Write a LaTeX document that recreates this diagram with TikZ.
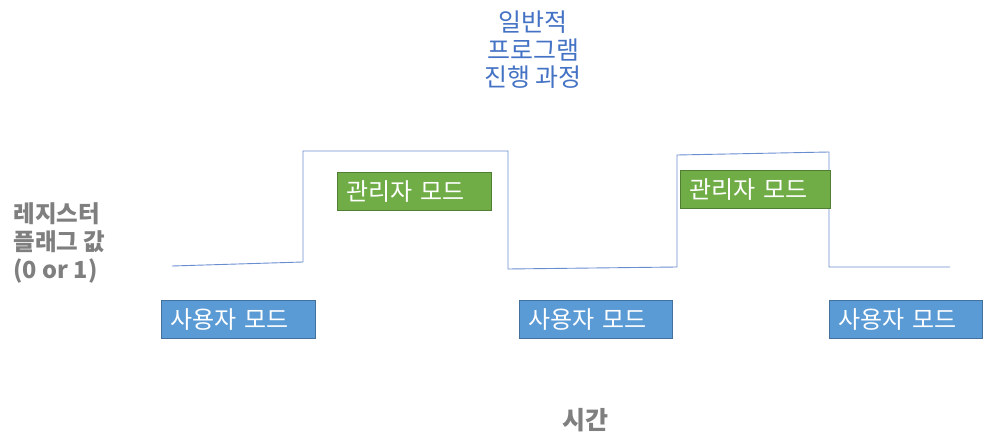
\documentclass[tikz,border=0pt]{standalone}
\usepackage{fontspec}
\setmainfont{Noto Sans CJK KR}
\definecolor{usrblue}{HTML}{5B9BD5}
\definecolor{usredge}{HTML}{41719C}
\definecolor{admgreen}{HTML}{70AD47}
\definecolor{admedge}{HTML}{507E32}
\definecolor{wave}{HTML}{4472C4}
\definecolor{lblgray}{HTML}{7F7F7F}
\begin{document}
\begin{tikzpicture}[x=1pt,y=-1pt,
  modebox/.style={draw, line width=0.8pt, minimum height=38pt, inner xsep=9pt, inner ysep=0pt, text=white, font=\fontsize{24}{26}\selectfont, anchor=north west, align=left},
  usrbox/.style={modebox, fill=usrblue, draw=usredge},
  admbox/.style={modebox, fill=admgreen, draw=admedge},
  waveline/.style={draw=wave!80, line width=0.9pt}]
\useasboundingbox (0,0) rectangle (986,441);
% waveform
\coordinate (w0) at (172,266);
\coordinate (w1) at (303,262);
\coordinate (w2) at (303,151);
\coordinate (w3) at (508,151);
\coordinate (w4) at (508,269);
\coordinate (w5) at (677,267);
\coordinate (w6) at (677,155);
\coordinate (w7) at (829,152);
\coordinate (w8) at (829,267);
\coordinate (w9) at (950,267);
\draw[waveline] (w0) -- (w1) -- (w2) -- (w3) -- (w4) -- (w5) -- (w6) -- (w7) -- (w8) -- (w9);
% mode boxes
\node[usrbox, text width=136pt] (u1) at (161,300) {사용자 모드};
\node[usrbox, text width=135pt] (u2) at (519,300) {사용자 모드};
\node[usrbox, text width=135pt] (u3) at (829,300) {사용자 모드};
\node[admbox, text width=136pt] (a1) at (337,172) {관리자 모드};
\node[admbox, text width=132pt] (a2) at (680,170) {관리자 모드};
% labels
\node[text=wave, align=center, font=\fontsize{25}{27.5}\selectfont] (title) at (533,50) {일반적\\프로그램\\진행 과정};
\node[text=lblgray, align=left, anchor=west, font=\bfseries\fontsize{23.5}{28}\selectfont] (flag) at (10,243) {레지스터\\플래그 값\\(0 or 1)};
\node[text=lblgray, font=\bfseries\fontsize{25}{27}\selectfont] (time) at (585,420) {시간};
\end{tikzpicture}
\end{document}
